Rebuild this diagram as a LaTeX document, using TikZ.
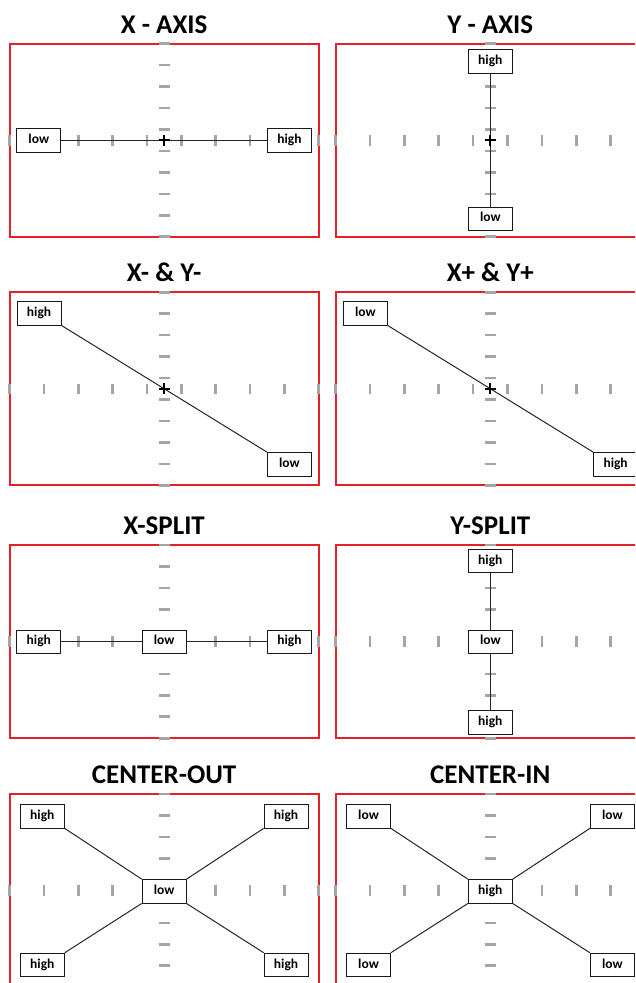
\documentclass[tikz,border=0pt]{standalone}
\usepackage{fontspec}
\setmainfont{Carlito}
\definecolor{frred}{RGB}{230,32,40}
\definecolor{tickgray}{RGB}{165,165,165}
\tikzset{
  lbl/.style={draw=black!90, line width=0.9pt, fill=white, minimum width=44pt,
    minimum height=23.5pt, inner sep=0pt, text height=9pt, text depth=2.7pt,
    font=\fontsize{13.5}{15}\selectfont\bfseries},
  ttl/.style={anchor=base, font=\fontsize{27}{32}\selectfont\bfseries},
  frm/.style={draw=frred, line width=2pt},
  conn/.style={draw=black!85, line width=1pt},
  tk/.style={draw=tickgray, line width=2.6pt},
  crs/.style={draw=black, line width=1.8pt},
}
\newcommand\pnlbg[4]{%
  \node[ttl] (#1t) at (#2,#3-107) {#4};
  \draw[frm] (#2-154.6,#3-96.5) rectangle (#2+154.6,#3+96.5);
  \foreach \k in {0,...,4}{%
    \pgfmathsetmacro\xo{17.2+34.35*\k}%
    \pgfmathsetmacro\yo{10.72+21.45*\k}%
    \draw[tk] ({#2+\xo},{#3-5.3}) -- ({#2+\xo},{#3+5.3});
    \draw[tk] ({#2-\xo},{#3-5.3}) -- ({#2-\xo},{#3+5.3});
    \draw[tk] ({#2-5.6},{#3+\yo}) -- ({#2+5.6},{#3+\yo});
    \draw[tk] ({#2-5.6},{#3-\yo}) -- ({#2+5.6},{#3-\yo});
  }%
}
\newcommand\pnlcross[3]{%
  \draw[crs] (#2-5.6,#3) -- (#2+5.6,#3) (#2,#3-5.6) -- (#2,#3+5.6);
  \coordinate (#1) at (#2,#3);
}
\begin{document}
\begin{tikzpicture}[x=1pt,y=-1pt]
\useasboundingbox (0,0) rectangle (635,983);
\clip (0,0) rectangle (635,983);
\fill[white] (0,0) rectangle (635,983);

% ---------- Row 1 left: X - AXIS ----------
\pnlbg{xa}{164.1}{140.2}{X - AXIS}
\node[lbl] (xalow) at (38.8,140.2) {low};
\node[lbl] (xahigh) at (289.4,140.2) {high};
\draw[conn] (xalow.east) -- (xahigh.west);
\pnlcross{xac}{164.1}{140.2}

% ---------- Row 1 right: Y - AXIS ----------
\pnlbg{ya}{490.3}{140.2}{Y - AXIS}
\node[lbl] (yahigh) at (490.3,61.3) {high};
\node[lbl] (yalow) at (490.3,218.8) {low};
\draw[conn] (yahigh.south) -- (yalow.north);
\pnlcross{yac}{490.3}{140.2}

% ---------- Row 2 left: X- & Y- ----------
\pnlbg{xm}{164.1}{388.8}{X- \& Y-}
\node[lbl] (xmhigh) at (39.1,313.3) {high};
\node[lbl] (xmlow) at (289.4,464.3) {low};
\draw[conn] (xmhigh.south east) -- (xmlow.north west);
\pnlcross{xmc}{164.1}{388.8}

% ---------- Row 2 right: X+ & Y+ ----------
\pnlbg{xp}{490.3}{388.8}{X+ \& Y+}
\node[lbl] (xplow) at (365.3,313.3) {low};
\node[lbl] (xphigh) at (615.6,464.3) {high};
\draw[conn] (xplow.south east) -- (xphigh.north west);
\pnlcross{xpc}{490.3}{388.8}

% ---------- Row 3 left: X-SPLIT ----------
\pnlbg{xs}{164.1}{641.7}{X-SPLIT}
\node[lbl] (xshl) at (38.8,641.7) {high};
\node[lbl] (xslow) at (164.1,641.7) {low};
\node[lbl] (xshr) at (289.4,641.7) {high};
\draw[conn] (xshl.east) -- (xslow.west);
\draw[conn] (xslow.east) -- (xshr.west);

% ---------- Row 3 right: Y-SPLIT ----------
\pnlbg{ys}{490.3}{641.7}{Y-SPLIT}
\node[lbl] (ysht) at (490.3,560.9) {high};
\node[lbl] (yslow) at (490.3,641.7) {low};
\node[lbl] (yshb) at (490.3,722.4) {high};
\draw[conn] (ysht.south) -- (yslow.north);
\draw[conn] (yslow.south) -- (yshb.north);

% ---------- Row 4 left: CENTER-OUT ----------
\pnlbg{co}{164.1}{890.7}{CENTER-OUT}
\node[lbl] (cotl) at (42.3,816.2) {high};
\node[lbl] (cotr) at (286.1,816.2) {high};
\node[lbl] (cobl) at (42.3,964.9) {high};
\node[lbl] (cobr) at (286.1,964.9) {high};
\node[lbl] (coc) at (164.1,891.3) {low};
\draw[conn] (cotl.south east) -- (coc.north west);
\draw[conn] (cotr.south west) -- (coc.north east);
\draw[conn] (cobl.north east) -- (coc.south west);
\draw[conn] (cobr.north west) -- (coc.south east);

% ---------- Row 4 right: CENTER-IN ----------
\pnlbg{ci}{490.3}{890.7}{CENTER-IN}
\node[lbl] (citl) at (368.5,816.2) {low};
\node[lbl] (citr) at (612.3,816.2) {low};
\node[lbl] (cibl) at (368.5,964.9) {low};
\node[lbl] (cibr) at (612.3,964.9) {low};
\node[lbl] (cic) at (490.3,891.3) {high};
\draw[conn] (citl.south east) -- (cic.north west);
\draw[conn] (citr.south west) -- (cic.north east);
\draw[conn] (cibl.north east) -- (cic.south west);
\draw[conn] (cibr.north west) -- (cic.south east);
\end{tikzpicture}
\end{document}
